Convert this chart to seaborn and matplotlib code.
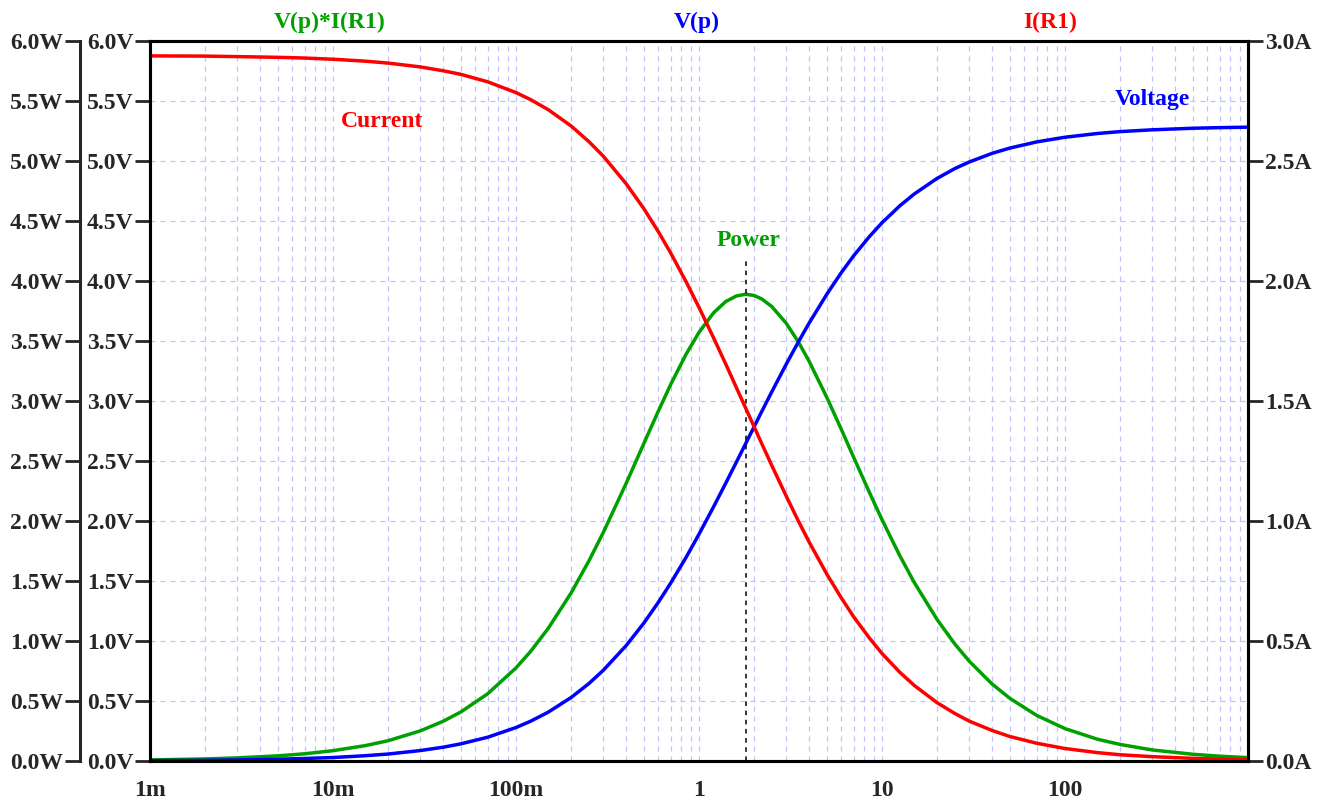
import numpy as np
import pandas as pd
import matplotlib
matplotlib.use("Agg")
import matplotlib.pyplot as plt
from matplotlib.ticker import LogLocator, FixedLocator, FixedFormatter, NullFormatter
import seaborn as sns

# load resistance sweep (ohm) and values
r_load = [0.001, 0.002, 0.003, 0.005, 0.007, 0.01, 0.015, 0.02, 0.03, 0.04, 0.05,
          0.07, 0.1, 0.12, 0.15, 0.2, 0.25, 0.3, 0.4, 0.5, 0.6, 0.7, 0.85, 1.0,
          1.2, 1.4, 1.6, 1.8, 2.0, 2.2, 2.5, 3.0, 3.5, 4.0, 5, 6, 7, 8.5, 10,
          12.5, 15, 20, 25, 30, 40, 50, 70, 100, 150, 200, 300, 500, 700, 1000]
voltage = [0.003, 0.006, 0.009, 0.015, 0.021, 0.029, 0.044, 0.058, 0.087, 0.115,
           0.143, 0.198, 0.279, 0.331, 0.407, 0.529, 0.645, 0.756, 0.962, 1.150,
           1.323, 1.482, 1.697, 1.890, 2.117, 2.315, 2.490, 2.646, 2.785, 2.911,
           3.077, 3.308, 3.495, 3.650, 3.891, 4.071, 4.210, 4.367, 4.485, 4.626,
           4.725, 4.855, 4.937, 4.992, 5.064, 5.108, 5.159, 5.198, 5.229, 5.245,
           5.260, 5.273, 5.278, 5.282]
current = [2.938, 2.937, 2.935, 2.932, 2.929, 2.924, 2.916, 2.908, 2.892, 2.876,
           2.861, 2.830, 2.785, 2.756, 2.714, 2.646, 2.581, 2.520, 2.405, 2.301,
           2.205, 2.117, 1.997, 1.890, 1.764, 1.654, 1.556, 1.470, 1.393, 1.323,
           1.231, 1.103, 0.998, 0.912, 0.778, 0.679, 0.601, 0.514, 0.448, 0.370,
           0.315, 0.243, 0.198, 0.166, 0.127, 0.102, 0.074, 0.052, 0.035, 0.026,
           0.018, 0.011, 0.008, 0.005]
power = [0.009, 0.017, 0.026, 0.043, 0.060, 0.086, 0.128, 0.169, 0.251, 0.331,
         0.409, 0.560, 0.776, 0.912, 1.105, 1.400, 1.666, 1.905, 2.314, 2.647,
         2.917, 3.137, 3.390, 3.572, 3.734, 3.829, 3.875, 3.890, 3.879, 3.851,
         3.787, 3.647, 3.489, 3.330, 3.028, 2.762, 2.531, 2.244, 2.011, 1.712,
         1.488, 1.179, 0.975, 0.831, 0.641, 0.522, 0.380, 0.270, 0.182, 0.138,
         0.092, 0.056, 0.040, 0.028]
peak_r = 1.8
peak_mark_top = 4.2

left_ticks = [0.0, 0.5, 1.0, 1.5, 2.0, 2.5, 3.0, 3.5, 4.0, 4.5, 5.0, 5.5, 6.0]
right_ticks = [0.0, 0.5, 1.0, 1.5, 2.0, 2.5, 3.0]
x_ticks = [1e-3, 1e-2, 1e-1, 1, 10, 100]
x_labels = ["1m", "10m", "100m", "1", "10", "100"]

df = pd.DataFrame({"R": r_load, "V": voltage, "I": current, "P": power})

sns.set_style("white")
plt.rcParams["font.family"] = ["Liberation Serif", "DejaVu Serif"]
plt.rcParams["font.weight"] = "bold"

GREEN = "#00a000"
BLUE = "#0000ff"
RED = "#ff0000"
GRID = "#c0c0ff"
FS = 17

fig = plt.figure(figsize=(13.31, 8.01), dpi=100)
ax = fig.add_axes([150 / 1331, 40 / 801, 1098 / 1331, 720 / 801])
ax_a = ax.twinx()
ax_w = ax.twinx()

sns.lineplot(data=df, x="R", y="P", ax=ax, color=GREEN, lw=2.5)
sns.lineplot(data=df, x="R", y="V", ax=ax, color=BLUE, lw=2.5)
sns.lineplot(data=df, x="R", y="I", ax=ax_a, color=RED, lw=2.5)
ax_a.set_zorder(ax.get_zorder() + 1)
ax_a.patch.set_visible(False)
ax_w.patch.set_visible(False)

ax.set_xscale("log")
ax.set_xlim(1e-3, 1e3)
ax.set_ylim(0, 6)
ax_a.set_ylim(0, 3)
ax_w.set_ylim(0, 6)
for a in (ax, ax_a, ax_w):
    a.set_xlabel("")
    a.set_ylabel("")

# x axis
ax.xaxis.set_major_locator(FixedLocator(x_ticks))
ax.xaxis.set_major_formatter(FixedFormatter(x_labels))
ax.xaxis.set_minor_locator(LogLocator(base=10, subs=np.arange(2, 10), numticks=20))
ax.xaxis.set_minor_formatter(NullFormatter())
ax.tick_params(axis="x", which="major", direction="out", length=11, width=2, labelsize=FS, pad=3)
ax.tick_params(axis="x", which="minor", direction="out", length=5, width=2)

# left V axis
ax.set_yticks(left_ticks)
ax.set_yticklabels([f"{v:.1f}V" for v in left_ticks])
ax.tick_params(axis="y", direction="out", length=11, width=2, labelsize=FS, pad=1)

# outer W axis
ax_w.spines["left"].set_position(("outward", 50.4))
ax_w.spines["left"].set_visible(True)
ax_w.yaxis.set_ticks_position("left")
ax_w.set_yticks(left_ticks)
ax_w.set_yticklabels([f"{v:.1f}W" for v in left_ticks])
ax_w.tick_params(axis="y", direction="out", length=11, width=2, labelsize=FS, pad=1)
for s in ("right", "top", "bottom"):
    ax_w.spines[s].set_visible(False)
ax_w.spines["left"].set_linewidth(2.2)

# right A axis
ax_a.set_yticks(right_ticks)
ax_a.set_yticklabels([f"{v:.1f}A" for v in right_ticks])
ax_a.tick_params(axis="y", direction="out", length=11, width=2, labelsize=FS, pad=1)

for a in (ax, ax_a):
    for s in a.spines.values():
        s.set_linewidth(2.2)
        s.set_color("black")
        s.set_visible(True)

ax.grid(True, which="both", axis="x", color=GRID, ls=(0, (4, 4)), lw=0.9)
ax.grid(True, which="major", axis="y", color=GRID, ls=(0, (4, 4)), lw=0.9)

# peak marker
ax.vlines(peak_r, 0, peak_mark_top, colors="black", linestyles=(0, (3, 3)), lw=1.1)

# curve labels
ax.text(0.0185, 5.33, "Current", color=RED, fontsize=FS, fontweight="bold", ha="center", va="center")
ax.text(299, 5.51, "Voltage", color=BLUE, fontsize=FS, fontweight="bold", ha="center", va="center")
ax.text(1.87, 4.34, "Power", color=GREEN, fontsize=FS, fontweight="bold", ha="center", va="center")

# trace names on top
ax.text(0.164, 1.026, "V(p)*I(R1)", color=GREEN, fontsize=FS, fontweight="bold",
        ha="center", va="center", transform=ax.transAxes)
ax.text(0.498, 1.026, "V(p)", color=BLUE, fontsize=FS, fontweight="bold",
        ha="center", va="center", transform=ax.transAxes)
ax.text(0.820, 1.026, "I(R1)", color=RED, fontsize=FS, fontweight="bold",
        ha="center", va="center", transform=ax.transAxes)

fig.savefig("out.png", dpi=100)
